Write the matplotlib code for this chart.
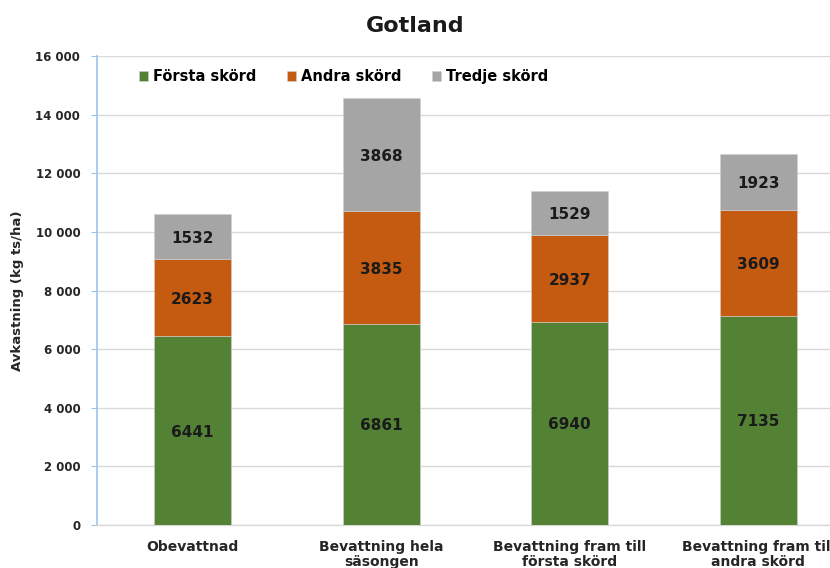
import numpy as np
import matplotlib.pyplot as plt
from matplotlib.ticker import FuncFormatter

# Data
categories = ['Obevattnad', 'Bevattning hela\nsäsongen',
              'Bevattning fram till\nförsta skörd', 'Bevattning fram till\nandra skörd']
forsta = [6441, 6861, 6940, 7135]
andra = [2623, 3835, 2937, 3609]
tredje = [1532, 3868, 1529, 1923]
series_names = ['Första skörd', 'Andra skörd', 'Tredje skörd']
colors = ['#548235', '#C55A11', '#A5A5A5']

plt.rcParams['font.family'] = 'DejaVu Sans'

fig = plt.figure(figsize=(8.3, 5.68), dpi=100)
ax = fig.add_axes([0.1169, 0.0757, 0.8831, 0.8257])

x = np.arange(len(categories))
width = 0.41
bottom = np.zeros(len(categories))
for vals, name, col in zip([forsta, andra, tredje], series_names, colors):
    bars = ax.bar(x, vals, width, bottom=bottom, color=col, label=name,
                  edgecolor='#d0d0d0', linewidth=0.4, zorder=3)
    for b, v, bt in zip(bars, vals, bottom):
        ax.text(b.get_x() + b.get_width() / 2, bt + v / 2, str(v),
                ha='center', va='center_baseline', fontsize=11, fontweight='bold',
                color='#1a1a1a', zorder=4)
    bottom += np.array(vals)

ax.set_ylim(0, 16000)
ax.set_xlim(-0.507, 3.38)
ax.set_yticks(np.arange(0, 16001, 2000))
ax.yaxis.set_major_formatter(FuncFormatter(lambda v, p: f'{int(v):,}'.replace(',', ' ')))
ax.grid(axis='y', color='#d9d9d9', linewidth=1, zorder=0)

ax.set_xticks(x)
ax.set_xticklabels(categories, fontsize=10, fontweight='bold', color='#262626',
                   linespacing=1.1)
for lbl in ax.get_yticklabels():
    lbl.set_fontweight('bold')
    lbl.set_fontsize(8.5)
    lbl.set_color('#262626')

ax.tick_params(axis='x', length=0, pad=11)
ax.tick_params(axis='y', length=4, color='#9dc3e6', pad=8)

for s in ['top', 'right']:
    ax.spines[s].set_visible(False)
ax.spines['left'].set_color('#9dc3e6')
ax.spines['left'].set_linewidth(1.2)
ax.spines['bottom'].set_color('#d9d9d9')
ax.spines['bottom'].set_linewidth(1)

ax.set_ylabel('Avkastning (kg ts/ha)', fontsize=9.5, fontweight='bold',
              color='#262626', labelpad=8)

leg = ax.legend(loc='upper left', bbox_to_anchor=(0.04, 1.0), ncol=3, frameon=False,
                handlelength=0.6, handleheight=0.6, handletextpad=0.35,
                columnspacing=2.1, prop={'weight': 'bold', 'size': 10.5})

fig.text(0.5, 0.955, 'Gotland', ha='center', va='center',
         fontsize=16, fontweight='bold', color='#1a1a1a')

fig.savefig('out.png', dpi=100)
